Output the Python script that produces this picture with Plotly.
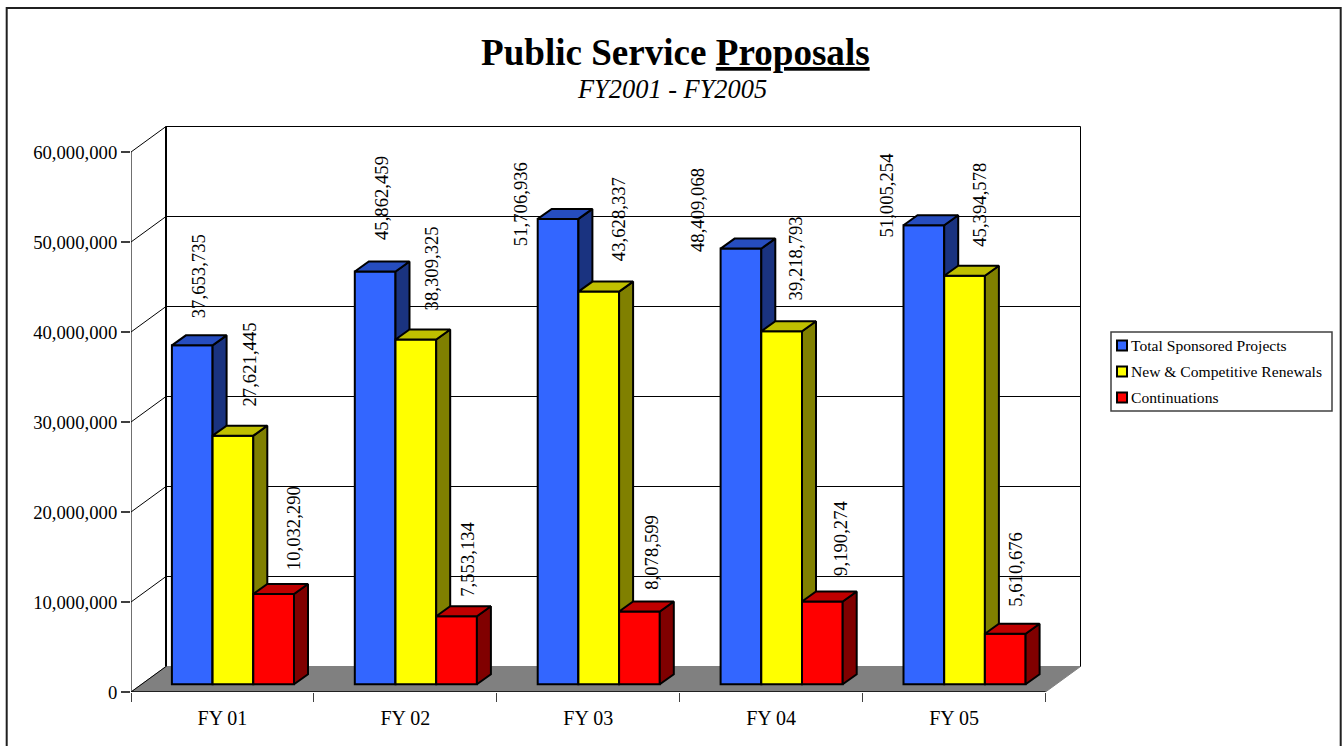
import plotly.graph_objects as go

CATEGORIES = ["FY 01", "FY 02", "FY 03", "FY 04", "FY 05"]
TOTAL = [37653735, 45862459, 51706936, 48409068, 51005254]
NEW_COMP = [27621445, 38309325, 43628337, 39218793, 45394578]
CONTINUATIONS = [10032290, 7553134, 8078599, 9190274, 5610676]
SERIES_NAMES = ["Total Sponsored Projects", "New & Competitive Renewals", "Continuations"]
Y_TICKS = [0, 10000000, 20000000, 30000000, 40000000, 50000000, 60000000]

SERIES = [TOTAL, NEW_COMP, CONTINUATIONS]
FRONT = ["#3366FF", "#FFFF00", "#FF0000"]
TOP = ["#264DBF", "#BFBF00", "#BF0000"]
SIDE = ["#1A3380", "#808000", "#800000"]

# label shifts in px from top-centre of each bar (manually placed in the source)
LABEL_DX = [[6.4, 6.9, -36.9, -42.9, -37.8],
            [16.8, 16.6, 20.4, 14.8, 14.2],
            [20.1, 11.3, 11.3, 17.5, 10.1]]
LABEL_DY = [[68.8, 73.5, 14.9, 38.6, 29.7],
            [70.9, 71.5, 72.6, 73.3, 70.7],
            [65.5, 57.3, 59.5, 63.5, 64.3]]

FONT = "Liberation Serif"
L, R, T, B = 131, 262, 115, 54
PW, PH = 1343 - L - R, 746 - T - B
GX = 182.9          # px per category
PY = 9 / 1e6        # px per unit
XMAX = PW / GX
YMAX = PH / PY


def dx(px):
    return px / GX


def dy(px):
    return px / PY


WALL_X, WALL_Y = dx(35), dy(25.5)
BAR_W = dx(40.7)
BAR_BASE = dy(7.75)
BAR_SHIFT = dx(10.5)
DEPTH_X, DEPTH_Y = dx(14), dy(10)

fig = go.Figure()


def line(xs, ys, color="#000000", width=1):
    fig.add_trace(go.Scatter(x=xs, y=ys, mode="lines", line=dict(color=color, width=width),
                             hoverinfo="skip", showlegend=False, xaxis="x", yaxis="y"))


# floor
n = len(CATEGORIES)
fig.add_trace(go.Scatter(x=[0, WALL_X, n + WALL_X, n, 0], y=[0, WALL_Y, WALL_Y, 0, 0],
                         mode="lines", fill="toself", fillcolor="#808080",
                         line=dict(color="#808080", width=1), hoverinfo="skip",
                         showlegend=False, xaxis="x", yaxis="y"))
line([0, n], [0, 0], "#000000", 1.5)
# walls
line([0, 0], [0, Y_TICKS[-1]], "#404040", 1.5)
line([WALL_X, WALL_X], [WALL_Y, Y_TICKS[-1] + WALL_Y], "#000000", 2)
line([n + WALL_X, n + WALL_X], [WALL_Y, Y_TICKS[-1] + WALL_Y], "#000000", 1)
for v in Y_TICKS:
    if v:
        line([0, WALL_X, n + WALL_X], [v, v + WALL_Y, v + WALL_Y])
line([0, WALL_X], [0, WALL_Y], "#000000", 1)

# bars, one overlaid subplot per series so that later series hide earlier sides
for s, values in enumerate(SERIES):
    ax = str(s + 2)
    centers = [i + 0.5 + BAR_SHIFT + (s - 1) * BAR_W for i in range(n)]
    fig.add_trace(go.Bar(x=centers, y=values, base=BAR_BASE, width=BAR_W, name=SERIES_NAMES[s],
                         marker=dict(color=FRONT[s], line=dict(color="#000000", width=2)),
                         showlegend=False, hoverinfo="skip", xaxis="x" + ax, yaxis="y" + ax))
    sx, sy, tx, ty = [], [], [], []
    for c, v in zip(centers, values):
        left, right = c - BAR_W / 2, c + BAR_W / 2
        top = BAR_BASE + v
        sx += [right, right + DEPTH_X, right + DEPTH_X, right, right, None]
        sy += [BAR_BASE, BAR_BASE + DEPTH_Y, top + DEPTH_Y, top, BAR_BASE, None]
        tx += [left, left + DEPTH_X, right + DEPTH_X, right, left, None]
        ty += [top, top + DEPTH_Y, top + DEPTH_Y, top, top, None]
    for px_, py_, col in ((sx, sy, SIDE[s]), (tx, ty, TOP[s])):
        fig.add_trace(go.Scatter(x=px_, y=py_, mode="lines", fill="toself", fillcolor=col,
                                 line=dict(color="#000000", width=2), hoverinfo="skip",
                                 showlegend=False, xaxis="x" + ax, yaxis="y" + ax))

annotations = []
for s, values in enumerate(SERIES):
    ax = str(s + 2)
    for i, v in enumerate(values):
        annotations.append(dict(
            x=i + 0.5 + BAR_SHIFT + (s - 1) * BAR_W, y=BAR_BASE + v, xref="x" + ax, yref="y" + ax,
            text=f"{v:,}", textangle=-90, showarrow=False, xanchor="center", yanchor="middle",
            xshift=LABEL_DX[s][i], yshift=LABEL_DY[s][i], font=dict(family=FONT, size=18.7, color="#000000")))


def pxx(p):
    return (p - L) / PW


def pxy(p):
    return (T + PH - p) / PH


annotations.append(dict(x=pxx(675.5), y=pxy(52), xref="paper", yref="paper", showarrow=False,
                        text="<b>Public Service <u>Proposals</u></b>", xanchor="center", yanchor="middle",
                        font=dict(family=FONT, size=37.1, color="#000000")))
annotations.append(dict(x=pxx(671.5), y=pxy(89), xref="paper", yref="paper", showarrow=False,
                        text="<i>FY2001 - FY2005</i>", xanchor="center", yanchor="middle",
                        font=dict(family=FONT, size=26.4, color="#000000")))

shapes = [
    dict(type="rect", xref="paper", yref="paper", x0=pxx(6.7), x1=pxx(1340.7), y0=pxy(800), y1=pxy(8),
         line=dict(color="#202020", width=2), fillcolor="rgba(0,0,0,0)", layer="below"),
    dict(type="rect", xref="paper", yref="paper", x0=pxx(1111), x1=pxx(1332), y0=pxy(411), y1=pxy(332),
         line=dict(color="#404040", width=1.5), fillcolor="#FFFFFF"),
]
LEGEND_ROWS = [345.5, 371.5, 397.5]
for name, col, ry in zip(SERIES_NAMES, FRONT, LEGEND_ROWS):
    shapes.append(dict(type="rect", xref="paper", yref="paper", x0=pxx(1117), x1=pxx(1127), y0=pxy(ry + 5), y1=pxy(ry - 5),
                       line=dict(color="#000000", width=2), fillcolor=col))
    annotations.append(dict(x=pxx(1131), y=pxy(ry), xref="paper", yref="paper", showarrow=False, text=name,
                            xanchor="left", yanchor="middle", xshift=-2,
                            font=dict(family=FONT, size=15.6, color="#000000")))

hidden_y = dict(range=[0, YMAX], visible=False, overlaying="y")
hidden_x = dict(range=[0, XMAX], visible=False, overlaying="x")

fig.update_layout(
    width=1343, height=746, margin=dict(l=L, r=R, t=T, b=B, autoexpand=False),
    paper_bgcolor="#FFFFFF", plot_bgcolor="#FFFFFF", barmode="overlay", showlegend=False,
    font=dict(family=FONT, color="#000000"), annotations=annotations, shapes=shapes,
    xaxis=dict(range=[0, XMAX], tickmode="array", tickvals=[i + 0.5 for i in range(n)], ticktext=CATEGORIES,
               ticks="", showgrid=False, zeroline=False, showline=False, ticklabelstandoff=12,
               tickfont=dict(family=FONT, size=20, color="#000000")),
    yaxis=dict(range=[0, YMAX], tickmode="array", tickvals=Y_TICKS, tickformat=",d", ticks="outside", ticklen=9,
               tickcolor="#404040", tickwidth=1.5, showgrid=False, zeroline=False, showline=False,
               tickfont=dict(family=FONT, size=18.7, color="#000000")),
    xaxis2=dict(range=[0, XMAX], overlaying="x", side="bottom", tickmode="array", tickvals=list(range(n + 1)),
                ticktext=[""] * (n + 1), ticks="outside", ticklen=9, tickcolor="#404040", tickwidth=1,
                showgrid=False, zeroline=False, showline=False),
    yaxis2=hidden_y, xaxis3=hidden_x, yaxis3=hidden_y, xaxis4=hidden_x, yaxis4=hidden_y,
)

fig.write_html("out.html", post_script="document.body.style.margin='0';document.body.style.overflow='hidden';",
               config={"displayModeBar": False})
